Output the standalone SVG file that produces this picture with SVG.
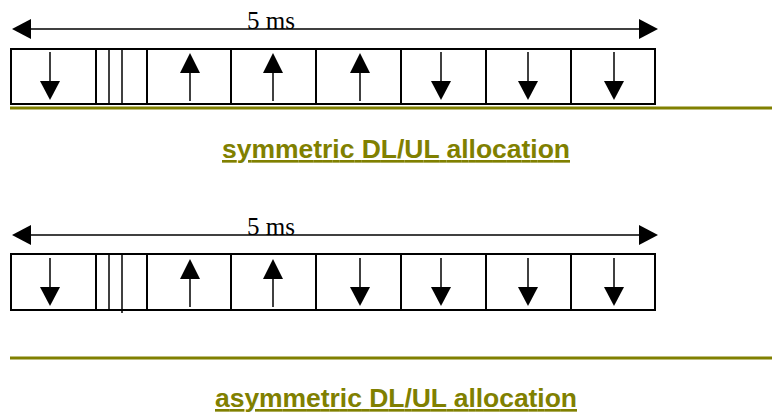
<svg xmlns="http://www.w3.org/2000/svg" width="772" height="414" viewBox="0 0 772 414">
<style>
.box{fill:none;stroke:#000;stroke-width:2}
.div{stroke:#000;stroke-width:2}
.thin{stroke:#000;stroke-width:1.5}
.sh{stroke:#000;stroke-width:1.5}
.hd{fill:#000}
.sep{stroke:#808000;stroke-width:3}
.ms{font-family:"Liberation Serif",serif;font-size:25px;fill:#000}
.title{font-family:"Liberation Sans",Arial,sans-serif;font-weight:bold;font-size:26.5px;fill:#808000;text-decoration:underline}
</style>
<defs>
<g id="down"><line class="sh" x1="0" y1="0" x2="0" y2="30"/><polygon class="hd" points="-10,29 10,29 0,48"/></g>
<g id="up"><line class="sh" x1="0" y1="48" x2="0" y2="19"/><polygon class="hd" points="-10,20 10,20 0,0"/></g>
</defs>

<g id="frame-symmetric">
<line class="thin" x1="28" y1="29" x2="642" y2="29"/>
<polygon class="hd" points="12,29 31,19 31,39"/>
<polygon class="hd" points="658,29 639,19 639,39"/>
<text class="ms" x="247" y="29">5 ms</text>
<rect class="box" x="11" y="49" width="644" height="55"/>
<line class="div" x1="96" y1="49" x2="96" y2="104"/>
<line class="thin" x1="109" y1="49" x2="109" y2="104"/>
<line class="thin" x1="122" y1="49" x2="122" y2="104"/>
<line class="div" x1="147" y1="49" x2="147" y2="104"/>
<line class="div" x1="231" y1="49" x2="231" y2="104"/>
<line class="div" x1="316" y1="49" x2="316" y2="104"/>
<line class="div" x1="401" y1="49" x2="401" y2="104"/>
<line class="div" x1="486" y1="49" x2="486" y2="104"/>
<line class="div" x1="571" y1="49" x2="571" y2="104"/>
<use href="#down" x="50" y="52"/>
<use href="#up" x="190" y="53"/>
<use href="#up" x="273" y="53"/>
<use href="#up" x="360" y="53"/>
<use href="#down" x="441" y="52"/>
<use href="#down" x="528" y="52"/>
<use href="#down" x="614" y="52"/>
<line class="sep" x1="10" y1="108" x2="772" y2="108"/>
<text class="title" x="222" y="158" textLength="348">symmetric DL/UL allocation</text>
</g>

<g id="frame-asymmetric">
<line class="thin" x1="28" y1="235" x2="642" y2="235"/>
<polygon class="hd" points="12,235 31,225 31,245"/>
<polygon class="hd" points="658,235 639,225 639,245"/>
<text class="ms" x="247" y="235">5 ms</text>
<rect class="box" x="11" y="254" width="644" height="56"/>
<line class="div" x1="96" y1="254" x2="96" y2="310"/>
<line class="thin" x1="109" y1="254" x2="109" y2="310"/>
<line class="thin" x1="122" y1="254" x2="122" y2="313"/>
<line class="div" x1="147" y1="254" x2="147" y2="310"/>
<line class="div" x1="231" y1="254" x2="231" y2="310"/>
<line class="div" x1="316" y1="254" x2="316" y2="310"/>
<line class="div" x1="401" y1="254" x2="401" y2="310"/>
<line class="div" x1="486" y1="254" x2="486" y2="310"/>
<line class="div" x1="571" y1="254" x2="571" y2="310"/>
<use href="#down" x="50" y="258"/>
<use href="#up" x="190" y="259"/>
<use href="#up" x="273" y="259"/>
<use href="#down" x="360" y="258"/>
<use href="#down" x="441" y="258"/>
<use href="#down" x="528" y="258"/>
<use href="#down" x="614" y="258"/>
<line class="sep" x1="10" y1="358" x2="772" y2="358"/>
<text class="title" x="215" y="407" textLength="362">asymmetric DL/UL allocation</text>
</g>
</svg>
